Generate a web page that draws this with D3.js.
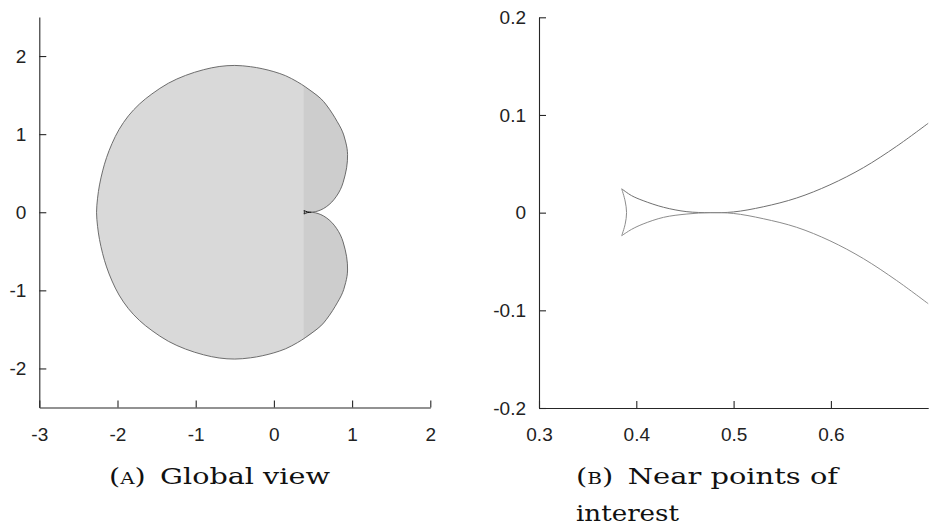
<!DOCTYPE html>
<html>
<head>
<meta charset="utf-8">
<script src="https://cdn.jsdelivr.net/npm/d3@7"></script>
<style>
  body { margin: 0; background: #ffffff; }
  .tick text { font-family: "Liberation Sans", Arial, sans-serif; font-size: 19px; fill: #222; }
  .caption { font-family: "DejaVu Serif", "Liberation Serif", serif; font-size: 23px; fill: #111; }
</style>
</head>
<body>
<div id="chart"></div>
<script>
// boundary of the shaded region, upper half (cusp -> lobe -> top -> far left)
var outlineUpperX = [0.475, 0.53, 0.60, 0.67, 0.74, 0.80, 0.85, 0.885, 0.912, 0.93, 0.94, 0.942, 0.935, 0.918, 0.893, 0.86, 0.81, 0.75, 0.67, 0.60, 0.50, 0.40, 0.30, 0.15, 0.0, -0.15, -0.30, -0.50, -0.70, -0.90, -1.13, -1.35, -1.56, -1.72, -1.86, -1.98, -2.07, -2.14, -2.19, -2.23, -2.255, -2.268];
var outlineUpperY = [0, 0.007, 0.03, 0.07, 0.13, 0.205, 0.29, 0.38, 0.48, 0.57, 0.66, 0.74, 0.82, 0.90, 0.99, 1.07, 1.16, 1.26, 1.375, 1.455, 1.535, 1.607, 1.67, 1.748, 1.80, 1.838, 1.864, 1.88, 1.866, 1.825, 1.752, 1.652, 1.515, 1.385, 1.235, 1.06, 0.88, 0.70, 0.53, 0.35, 0.18, 0];

// lower half (far left -> bottom -> lobe -> back to cusp)
var outlineLowerX = [-2.255, -2.23, -2.19, -2.14, -2.07, -1.98, -1.86, -1.72, -1.56, -1.35, -1.13, -0.90, -0.70, -0.50, -0.30, -0.15, 0.0, 0.15, 0.30, 0.40, 0.50, 0.60, 0.67, 0.75, 0.81, 0.86, 0.893, 0.918, 0.935, 0.942, 0.94, 0.93, 0.912, 0.885, 0.85, 0.80, 0.74, 0.67, 0.60, 0.53];
var outlineLowerY = [-0.18, -0.35, -0.53, -0.70, -0.88, -1.06, -1.235, -1.385, -1.515, -1.652, -1.752, -1.825, -1.866, -1.88, -1.864, -1.838, -1.80, -1.748, -1.67, -1.607, -1.535, -1.455, -1.375, -1.26, -1.16, -1.07, -0.99, -0.90, -0.82, -0.74, -0.66, -0.57, -0.48, -0.38, -0.29, -0.205, -0.13, -0.07, -0.03, -0.007];

// darker band starts here
var shadeSplitX = 0.38;

// swallowtail near the cusp
var tailUpperX = [0.385, 0.395, 0.407, 0.428, 0.452, 0.476, 0.4997, 0.5305, 0.5648, 0.599, 0.6333, 0.6676, 0.70];
var tailUpperY = [0.0244, 0.0175, 0.0123, 0.0055, 0.001, 0, 0.0007, 0.006, 0.015, 0.0285, 0.046, 0.068, 0.0915];
var tailLowerX = [0.385, 0.395, 0.407, 0.428, 0.452, 0.476, 0.4997, 0.5305, 0.5648, 0.599, 0.6333, 0.6676, 0.70];
var tailLowerY = [-0.0236, -0.0172, -0.0116, -0.0048, -0.0014, 0, -0.0008, -0.0062, -0.015, -0.0288, -0.047, -0.0695, -0.0932];
var tailArcX = [0.385, 0.3885, 0.390, 0.3885, 0.385];
var tailArcY = [0.0244, 0.012, 0, -0.012, -0.0236];

// tick labels
var leftXTicks = [-3, -2, -1, 0, 1, 2];
var leftYTicks = [-2, -1, 0, 1, 2];
var rightXTicks = [0.3, 0.4, 0.5, 0.6];
var rightYTicks = [-0.2, -0.1, 0, 0.1, 0.2];

var svg = d3.select("#chart")
  .append("svg")
  .attr("width", 930)
  .attr("height", 529);

function zip(xs, ys) {
  return xs.map(function(x, i) { return [x, ys[i]]; });
}

function fmt(d) {
  return d === 0 ? "0" : String(d);
}

// draw the two axes of a panel, ticks pointing inwards
function drawAxes(g, x, y, xt, yt) {
  var bottomAxis = d3.axisBottom(x)
    .tickValues(xt)
    .tickSizeInner(-7)
    .tickSizeOuter(0)
    .tickPadding(20)
    .tickFormat(fmt);
  var leftAxis = d3.axisLeft(y)
    .tickValues(yt)
    .tickSizeInner(-7)
    .tickSizeOuter(0)
    .tickPadding(13)
    .tickFormat(fmt);

  var xa = g.append("g")
    .attr("transform", `translate(0, ${y.range()[0]})`)
    .call(bottomAxis);
  var ya = g.append("g")
    .attr("transform", `translate(${x.range()[0]}, 0)`)
    .call(leftAxis);

  [xa, ya].forEach(function(a) {
    a.select(".domain").attr("stroke", "#262626").attr("stroke-width", 1.1);
    a.selectAll(".tick line").attr("stroke", "#262626").attr("stroke-width", 1.1);
    a.selectAll("text").attr("font-family", null).attr("font-size", null);
  });
}

// ---------- panel A : global view ----------
var xA = d3.scaleLinear().domain([-3, 2]).range([39.3, 430.3]);
var yA = d3.scaleLinear().domain([-2.5, 2.5]).range([407.5, 17]);

var gA = svg.append("g");

var outlinePts = zip(outlineUpperX, outlineUpperY).concat(zip(outlineLowerX, outlineLowerY));

var shapeLine = d3.line()
  .x(d => xA(d[0]))
  .y(d => yA(d[1]))
  .curve(d3.curveCatmullRomClosed.alpha(0.5));

svg.append("defs")
  .append("clipPath")
  .attr("id", "darkPart")
  .append("rect")
  .attr("x", xA(shadeSplitX))
  .attr("y", 0)
  .attr("width", 430 - xA(shadeSplitX))
  .attr("height", 529);

gA.append("path")
  .attr("d", shapeLine(outlinePts))
  .attr("fill", "#d9d9d9");

gA.append("path")
  .attr("d", shapeLine(outlinePts))
  .attr("clip-path", "url(#darkPart)")
  .attr("fill", "#cdcdcd");

gA.append("path")
  .attr("d", shapeLine(outlinePts))
  .attr("fill", "none")
  .attr("stroke", "#5f5f5f")
  .attr("stroke-width", 0.9);

var tailLineA = d3.line()
  .x(d => xA(d[0]))
  .y(d => yA(d[1]))
  .curve(d3.curveCatmullRom.alpha(0.5));

[zip(tailUpperX, tailUpperY), zip(tailLowerX, tailLowerY), zip(tailArcX, tailArcY)].forEach(function(pts) {
  gA.append("path")
    .attr("d", tailLineA(pts.filter(p => p[0] < 0.48)))
    .attr("fill", "none")
    .attr("stroke", "#111")
    .attr("stroke-width", 1);
});

drawAxes(gA, xA, yA, leftXTicks, leftYTicks);

// ---------- panel B : near points of interest ----------
var xB = d3.scaleLinear().domain([0.3, 0.7]).range([539, 928.2]);
var yB = d3.scaleLinear().domain([-0.2, 0.2]).range([408, 17.3]);

var gB = svg.append("g");

var tailLineB = d3.line()
  .x(d => xB(d[0]))
  .y(d => yB(d[1]))
  .curve(d3.curveCatmullRom.alpha(0.5));

gB.append("path")
  .attr("d", tailLineB(zip(tailUpperX, tailUpperY)))
  .attr("fill", "none")
  .attr("stroke", "#707070")
  .attr("stroke-width", 1);

gB.append("path")
  .attr("d", tailLineB(zip(tailLowerX, tailLowerY)))
  .attr("fill", "none")
  .attr("stroke", "#8c8c8c")
  .attr("stroke-width", 1);

gB.append("path")
  .attr("d", tailLineB(zip(tailArcX, tailArcY)))
  .attr("fill", "none")
  .attr("stroke", "#8c8c8c")
  .attr("stroke-width", 1);

drawAxes(gB, xB, yB, rightXTicks, rightYTicks);

// ---------- captions ----------
var capA = svg.append("text")
  .attr("class", "caption")
  .attr("x", 109)
  .attr("y", 484)
  .attr("textLength", 221)
  .attr("lengthAdjust", "spacingAndGlyphs");
capA.append("tspan").text("(");
capA.append("tspan").style("font-variant", "small-caps").text("a");
capA.append("tspan").text(")\u2002Global view");

var capB = svg.append("text")
  .attr("class", "caption")
  .attr("x", 576)
  .attr("y", 484)
  .attr("textLength", 262)
  .attr("lengthAdjust", "spacingAndGlyphs");
capB.append("tspan").text("(");
capB.append("tspan").style("font-variant", "small-caps").text("b");
capB.append("tspan").text(")\u2002Near points of");

svg.append("text")
  .attr("class", "caption")
  .attr("x", 576)
  .attr("y", 521)
  .attr("textLength", 103)
  .attr("lengthAdjust", "spacingAndGlyphs")
  .text("interest");
</script>
</body>
</html>
